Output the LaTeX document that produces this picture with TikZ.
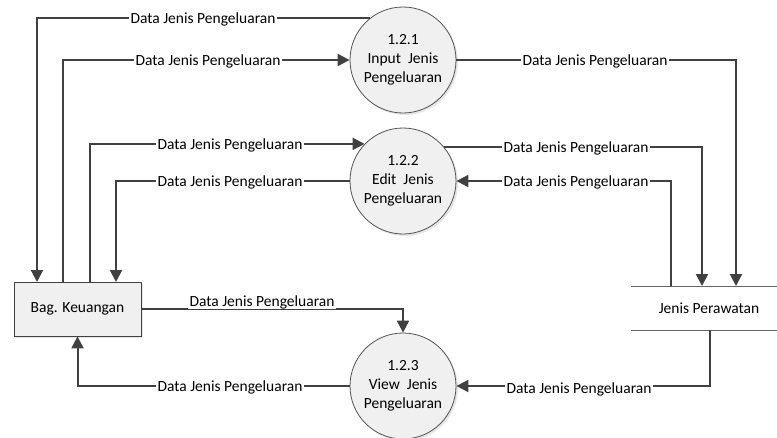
\documentclass[tikz,border=0pt]{standalone}
\usepackage{fontspec}
\setmainfont{Carlito}
\usetikzlibrary{arrows.meta,shadows}
\definecolor{ln}{HTML}{404040}
\definecolor{bx}{HTML}{F0F0F0}
\begin{document}
\begin{tikzpicture}[x=1pt,y=-1pt,
  every node/.style={font=\fontsize{15.5}{19}\selectfont},
  proc/.style={circle,draw=ln!90,line width=0.8pt,fill=bx,minimum size=106pt,inner sep=0pt,align=center,
    drop shadow={opacity=0.2,shadow xshift=2pt,shadow yshift=-2pt}},
  ent/.style={rectangle,draw=ln,line width=0.8pt,fill=bx,minimum width=127pt,minimum height=54pt,
    drop shadow={opacity=0.2,shadow xshift=2pt,shadow yshift=-2pt}},
  flow/.style={draw=ln,line width=2pt,-{Triangle[length=12pt,width=12pt]}},
  storeline/.style={draw=ln!80,line width=0.8pt},
  lbl/.style={fill=white,inner xsep=1.5pt,inner ysep=0.5pt},
]
\useasboundingbox (0,0) rectangle (777,437);

% processes and entities
\node[proc] (c1) at (403,60) {1.2.1\\Input~~Jenis\\Pengeluaran};
\node[proc] (c2) at (403,181) {1.2.2\\Edit~~Jenis\\Pengeluaran};
\node[proc] (c3) at (403,386) {1.2.3\\View~~Jenis\\Pengeluaran};
\node[ent] (bk) at (77.5,309) {Bag. Keuangan};

% data store
\node (st) at (709,308) {Jenis Perawatan};
\coordinate (stl1) at (631,286);
\coordinate (str1) at (777,286);
\coordinate (stl2) at (631,330);
\coordinate (str2) at (777,330);
\draw[storeline] (stl1) -- (str1);
\draw[storeline] (stl2) -- (str2);

% connection points
\coordinate (k1) at (37,282);
\coordinate (k2) at (63,282);
\coordinate (k3) at (90,282);
\coordinate (k4) at (116,282);
\coordinate (s1) at (736,286);
\coordinate (s2) at (702,286);
\coordinate (s3) at (671,286);
\coordinate (s4) at (710,330);

% flows
\draw[flow] (c1.128) -| (k1);
\draw[flow] (k2) |- (c1.west);
\draw[flow] (k3) |- (c2.136);
\draw[flow] (c2.west) -| (k4);
\draw[flow] (bk.east) -| (c3.north);
\draw[flow] (c3.west) -| (bk.south);
\draw[flow] (c1.east) -| (s1);
\draw[flow] (c2.40) -| (s2);
\draw[flow] (s3) |- (c2.east);
\draw[flow] (s4) |- (c3.east);

% labels
\node[lbl] (l1) at (203,19.5) {Data Jenis Pengeluaran};
\node[lbl] (l2) at (208,61.5) {Data Jenis Pengeluaran};
\node[lbl] (l3) at (230,145.5) {Data Jenis Pengeluaran};
\node[lbl] (l4) at (230,182.5) {Data Jenis Pengeluaran};
\node[lbl] (l5) at (262,302) {Data Jenis Pengeluaran};
\node[lbl] (l6) at (230,387.5) {Data Jenis Pengeluaran};
\node[lbl] (l7) at (595,61.5) {Data Jenis Pengeluaran};
\node[lbl] (l8) at (576,148.5) {Data Jenis Pengeluaran};
\node[lbl] (l9) at (576,182.5) {Data Jenis Pengeluaran};
\node[lbl] (l10) at (579,389) {Data Jenis Pengeluaran};
\end{tikzpicture}
\end{document}
